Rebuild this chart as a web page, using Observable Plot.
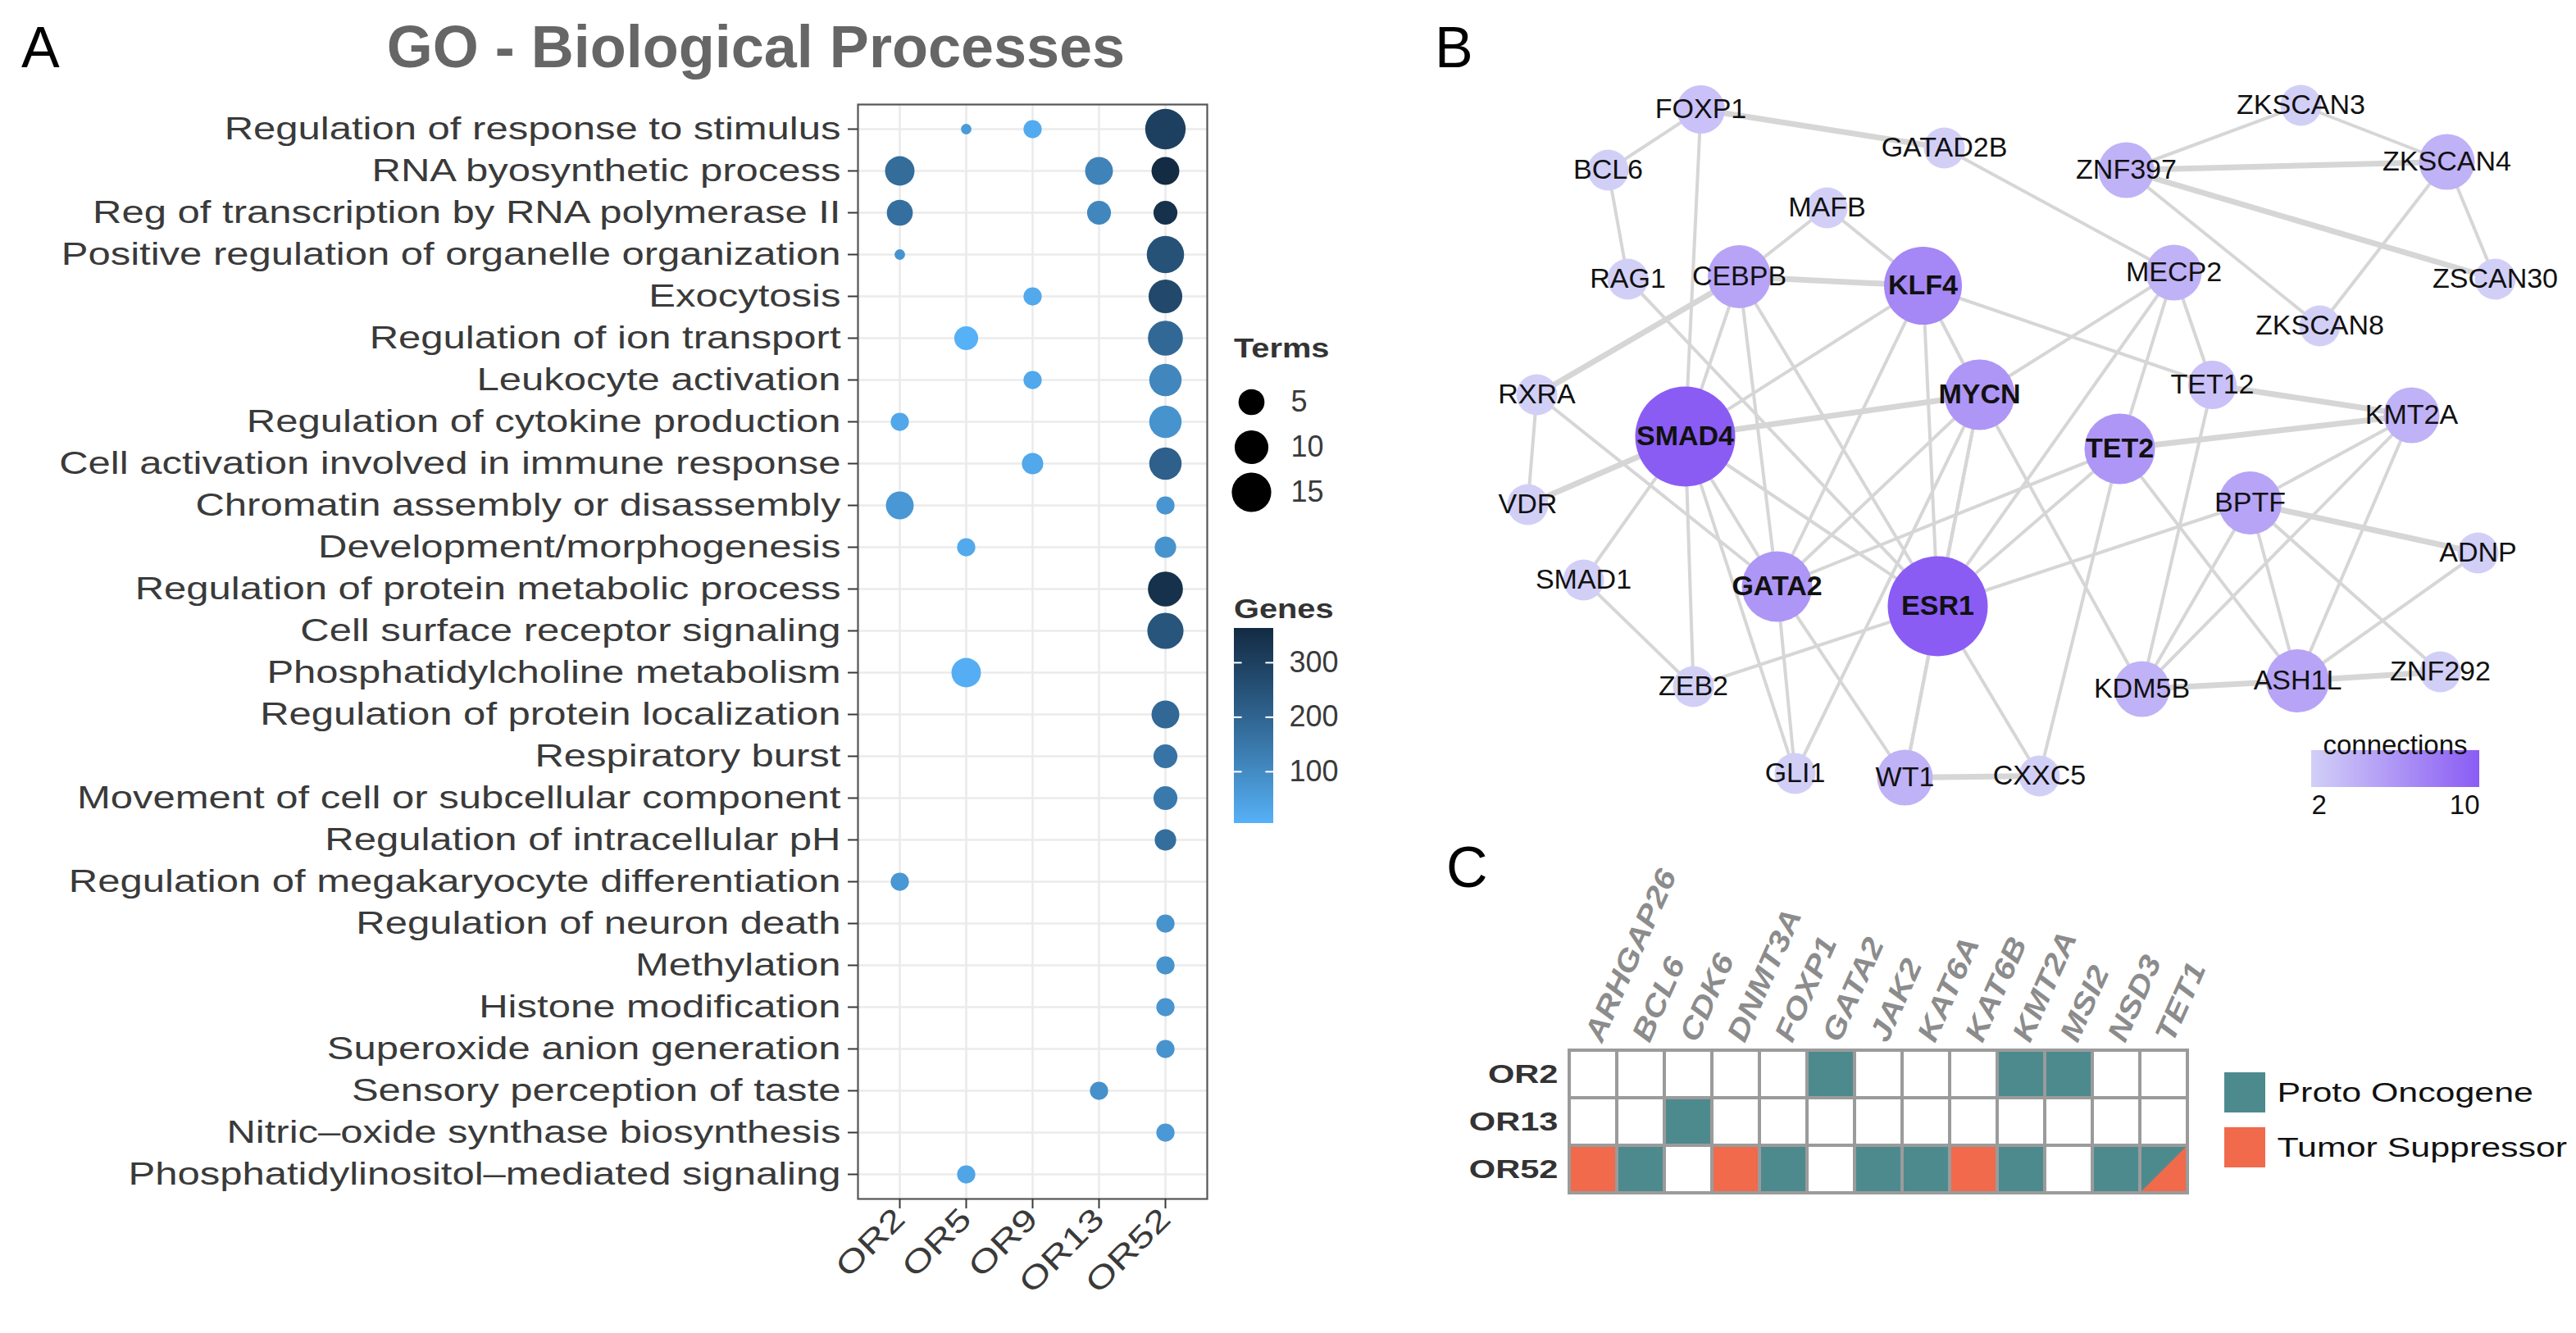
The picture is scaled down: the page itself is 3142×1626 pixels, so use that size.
<!DOCTYPE html>
<html><head><meta charset="utf-8">
<script src="https://cdn.jsdelivr.net/npm/d3@7"></script>
<script src="https://cdn.jsdelivr.net/npm/@observablehq/plot@0.6"></script>
<style>
html,body{margin:0;padding:0;background:#fff;}
#fig{position:relative;width:3142px;height:1626px;overflow:hidden;background:#fff;font-family:"Liberation Sans",Arial,Helvetica,sans-serif;}
</style></head><body>
<div id="fig"></div>
<script>
// ---------------- DATA ----------------
// Panel A: GO biological processes dot plot
const terms = [
"Regulation of response to stimulus",
"RNA byosynthetic process",
"Reg of transcription by RNA polymerase II",
"Positive regulation of organelle organization",
"Exocytosis",
"Regulation of ion transport",
"Leukocyte activation",
"Regulation of cytokine production",
"Cell activation involved in immune response",
"Chromatin assembly or disassembly",
"Development/morphogenesis",
"Regulation of protein metabolic process",
"Cell surface receptor signaling",
"Phosphatidylcholine metabolism",
"Regulation of protein localization",
"Respiratory burst",
"Movement of cell or subcellular component",
"Regulation of intracellular pH",
"Regulation of megakaryocyte differentiation",
"Regulation of neuron death",
"Methylation",
"Histone modification",
"Superoxide anion generation",
"Sensory perception of taste",
"Nitric\u2013oxide synthase biosynthesis",
"Phosphatidylinositol\u2013mediated signaling"
];
const groups = ["OR2","OR5","OR9","OR13","OR52"];
const dotTerm  = [0,0,0,1,1,1,2,2,2,3,3,4,4,5,5,6,6,7,7,8,8,9,9,10,10,11,12,13,14,15,16,17,18,19,20,21,22,23,24,25];
const dotGroup = ["OR5","OR9","OR52","OR2","OR13","OR52","OR2","OR13","OR52","OR2","OR52","OR9","OR52","OR5","OR52","OR9","OR52","OR2","OR52","OR9","OR52","OR2","OR52","OR5","OR52","OR52","OR52","OR5","OR52","OR52","OR52","OR52","OR2","OR52","OR52","OR52","OR52","OR13","OR52","OR5"];
const dotCount = [1,2,16,7,6,6,5,4,4,1,13,2,10,4,11,2,9,2,9,3,9,6,2,2,3,11,12,7,6,4,4,3,2,2,2,2,2,2,2,2];
const dotGenes = [60,20,300,180,120,362,170,110,345,80,250,25,275,5,190,28,110,30,80,28,210,70,75,25,80,345,240,12,190,160,145,175,70,80,80,75,80,85,65,35];
const termBreaks = [5,10,15];
const geneBreaks = [100,200,300];
const geneRange = [5,363];

// Panel B: network
const nodeNames = ["FOXP1","BCL6","GATAD2B","ZNF397","ZKSCAN3","ZKSCAN4","MAFB","RAG1","CEBPB","KLF4","MECP2","ZSCAN30","ZKSCAN8","TET12","MYCN","RXRA","KMT2A","SMAD4","TET2","VDR","BPTF","ADNP","SMAD1","GATA2","ESR1","ZEB2","KDM5B","ASH1L","ZNF292","GLI1","WT1","CXXC5"];
const nodeX = [31.4,20.1,61.1,83.3,104.6,122.4,46.8,22.5,36.1,58.5,89.1,128.3,106.9,93.8,65.4,11.4,118.1,29.5,82.5,10.3,98.4,126.2,17.1,40.7,60.3,30.5,85.2,104.2,121.6,42.9,56.3,72.7];
const nodeY = [13.3,20.7,18.0,20.7,12.8,19.7,25.3,34.0,33.7,34.8,33.2,34.0,39.7,46.9,48.1,48.1,50.6,53.2,54.7,61.5,61.3,67.4,70.7,71.5,73.9,83.7,84.0,83.0,81.9,94.3,94.8,94.6];
const nodeConn = [3,2,2,4,2,4,2,2,5,7,4,2,2,3,6,2,4,10,6,2,5,2,2,6,10,2,4,5,2,2,4,2];
const edgeFrom = ["FOXP1","FOXP1","FOXP1","BCL6","GATAD2B","ZNF397","ZNF397","ZNF397","ZNF397","ZKSCAN3","ZKSCAN4","ZKSCAN4","MAFB","MAFB","CEBPB","RAG1","RXRA","RXRA","RXRA","VDR","SMAD1","SMAD1","SMAD4","SMAD4","SMAD4","SMAD4","SMAD4","SMAD4","SMAD4","CEBPB","CEBPB","KLF4","KLF4","KLF4","KLF4","MECP2","MECP2","MECP2","MECP2","MYCN","MYCN","MYCN","MYCN","TET2","TET2","TET2","TET2","TET2","TET12","TET12","KMT2A","KMT2A","KMT2A","BPTF","BPTF","BPTF","BPTF","BPTF","ADNP","KDM5B","ASH1L","WT1","ESR1","ESR1","ESR1","GATA2","GATA2","MYCN"];
const edgeTo   = ["BCL6","GATAD2B","SMAD4","RAG1","MECP2","ZKSCAN3","ZKSCAN4","ZKSCAN8","ZSCAN30","ZKSCAN4","ZKSCAN8","ZSCAN30","CEBPB","KLF4","KLF4","ESR1","CEBPB","VDR","GATA2","SMAD4","SMAD4","ZEB2","CEBPB","KLF4","MYCN","GATA2","ESR1","ZEB2","GLI1","GATA2","ESR1","ESR1","MYCN","GATA2","TET12","TET12","TET2","MYCN","ESR1","ESR1","KDM5B","GATA2","WT1","KMT2A","GATA2","CXXC5","ESR1","ASH1L","KMT2A","KDM5B","BPTF","KDM5B","ASH1L","ADNP","ESR1","KDM5B","ASH1L","ZNF292","ASH1L","ASH1L","ZNF292","CXXC5","WT1","ZEB2","CXXC5","GLI1","WT1","GLI1"];
const edgeWeight = [1,2,1,1,1,1,2,1,2,1,1,1,1,1,2,1,2,1,1,2,1,1,1,1,2,1,1,1,1,1,1,1,1,1,1,1,1,1,1,1,1,1,1,2,1,1,1,1,2,1,1,1,1,2,1,1,1,1,1,2,2,2,1,1,1,1,1,1];
const connBreaks = [2,10];

// Panel C: oncogene / tumour suppressor matrix
const genesC = ["ARHGAP26","BCL6","CDK6","DNMT3A","FOXP1","GATA2","JAK2","KAT6A","KAT6B","KMT2A","MSI2","NSD3","TET1"];
const samplesC = ["OR2","OR13","OR52"];
const statusOR2  = ["","","","","","P","","","","P","P","",""];
const statusOR13 = ["","","P","","","","","","","","","",""];
const statusOR52 = ["T","P","","T","P","","P","P","T","P","","P","PT"];
const typeNames = ["Proto Oncogene","Tumor Suppressor"];

// ---------------- HELPERS ----------------
const FONT = "'Liberation Sans', Arial, Helvetica, sans-serif";
const fig = document.getElementById("fig");
function place(el, left, top){ el.style.position="absolute"; el.style.left=left+"px"; el.style.top=top+"px"; el.style.overflow="visible"; fig.appendChild(el); return el; }
function stretchText(root, selector, s){
  root.querySelectorAll(selector).forEach(el=>{
    const x = parseFloat(el.getAttribute("x")) || 0;
    const t = el.getAttribute("transform") || "";
    el.setAttribute("transform", `${t} translate(${x},0) scale(${s},1) translate(${-x},0)`);
  });
}
const baseStyle = {fontFamily: FONT, background:"transparent", overflow:"visible", color:"#3a3a3a"};

// ---------------- PANEL A ----------------
const dots = dotTerm.map((t,i)=>({term:terms[t], group:dotGroup[i], count:dotCount[i], genes:dotGenes[i]}));
const rA = {type:"linear", domain:[1,5], range:[6.4,25.3]};
const sizeOf = c => 1 + Math.sqrt(c - 1);
const colorA = {type:"linear", domain:geneRange, range:["#56B1F7","#132B43"], interpolate:"lab"};

const plotA = Plot.plot({
  width:1500, height:1626, marginLeft:1046, marginRight:28, marginTop:127, marginBottom:164,
  style: baseStyle,
  x:{type:"point", domain:groups, padding:0.6},
  y:{type:"point", domain:terms, padding:0.58},
  r: rA, color: colorA,
  marks:[
    Plot.ruleY(terms, {y:d=>d, stroke:"#ebebeb", strokeWidth:2.6}),
    Plot.ruleX(groups, {x:d=>d, stroke:"#ebebeb", strokeWidth:2.6}),
    Plot.dot(dots, {x:"group", y:"term", r:d=>sizeOf(d.count), fill:"genes"}),
    Plot.frame({stroke:"#555", strokeWidth:2.2}),
    Plot.axisY({tickSize:12, tickPadding:9, fontSize:38, label:null, strokeWidth:2}),
    Plot.axisX({tickSize:12, tickPadding:6, tickRotate:-45, fontSize:38, label:null, strokeWidth:2})
  ]
});
stretchText(plotA, 'g[aria-label="y-axis tick label"] text', 1.29);
stretchText(plotA, 'g[aria-label="x-axis tick label"] text', 1.29);
place(plotA, 0, 0);

// Terms (size) legend
const legTerms = Plot.plot({
  width:240, height:260, margin:0, style: baseStyle,
  y:{type:"point", domain:termBreaks, range:[90,200], padding:0, axis:null},
  r: rA,
  marks:[
    Plot.dot(termBreaks, {y:d=>d, r:d=>sizeOf(d), fill:"#000", frameAnchor:"left", dx:36}),
    Plot.text(termBreaks, {y:d=>d, text:d=>String(d), frameAnchor:"left", dx:84, textAnchor:"start", fontSize:36, fill:"#3a3a3a"})
  ]
});
place(legTerms, 1490, 400);

// Genes (colour) legend
const gbins = d3.range(geneRange[0], geneRange[1], 1);
const legGenes = Plot.plot({
  width:200, height:300, margin:0, style: baseStyle,
  x:{domain:[0,1], range:[15,63], axis:null},
  y:{domain:geneRange, range:[254,16], axis:null},
  color: colorA,
  marks:[
    Plot.rect(gbins, {x1:0, x2:1, y1:d=>d, y2:d=>Math.min(d+1.3, geneRange[1]), fill:d=>d+0.5, shapeRendering:"crispEdges"}),
    Plot.ruleY(geneBreaks, {y:d=>d, x1:0, x2:0.2, stroke:"#fff", strokeWidth:2}),
    Plot.ruleY(geneBreaks, {y:d=>d, x1:0.8, x2:1, stroke:"#fff", strokeWidth:2}),
    Plot.text(geneBreaks, {y:d=>d, text:d=>String(d), frameAnchor:"left", dx:82, textAnchor:"start", fontSize:36, fill:"#3a3a3a"})
  ]
});
place(legGenes, 1490, 750);

// ---------------- PANEL B ----------------
const nodes = nodeNames.map((n,i)=>({name:n, x:nodeX[i], y:nodeY[i], conn:nodeConn[i]}));
const byName = new Map(nodes.map(d=>[d.name,d]));
const edges = edgeFrom.map((f,i)=>({a:byName.get(f), b:byName.get(edgeTo[i]), w:edgeWeight[i]}));
const colorB = {type:"linear", domain:[2,10], range:["#d2cff7","#8a5cf4"]};
const plotB = Plot.plot({
  width:1382, height:1010, margin:0, style: baseStyle,
  x:{domain:[0,138.2], range:[0,1382], axis:null},
  y:{domain:[0,101], range:[0,1010], axis:null},
  r:{type:"linear", domain:[2,10], range:[25,61]},
  color: colorB,
  marks:[
    Plot.link(edges, {x1:d=>d.a.x, y1:d=>d.a.y, x2:d=>d.b.x, y2:d=>d.b.y, stroke:"#d6d6d6", strokeWidth:d=>d.w*3+1, strokeLinecap:"round"}),
    Plot.dot(nodes, {x:"x", y:"y", r:"conn", fill:"conn"}),
    Plot.text(nodes.filter(d=>d.conn<6), {x:"x", y:"y", text:"name", fontSize:34, fill:"#111"}),
    Plot.text(nodes.filter(d=>d.conn>=6), {x:"x", y:"y", text:"name", fontSize:34, fontWeight:"bold", fill:"#111"})
  ]
});
place(plotB, 1760, 0);

const cbins = d3.range(2, 10, 0.04);
const legConn = Plot.plot({
  width:300, height:160, margin:0, style: baseStyle,
  x:{domain:[2,10], range:[19,224], axis:null},
  y:{domain:[0,1], range:[55,100], axis:null},
  color: colorB,
  marks:[
    Plot.rect(cbins, {x1:d=>d, x2:d=>Math.min(d+0.06,10), y1:0, y2:1, fill:d=>d+0.02, shapeRendering:"crispEdges"}),
    Plot.text(["connections"], {frameAnchor:"top-left", dx:121, dy:36, textAnchor:"middle", fontSize:33, fill:"#111"}),
    Plot.text([connBreaks[0]], {x:d=>d, y:1, dy:22, text:d=>String(d), textAnchor:"start", fontSize:33, fill:"#111"}),
    Plot.text([connBreaks[1]], {x:d=>d, y:1, dy:22, text:d=>String(d), textAnchor:"end", fontSize:33, fill:"#111"})
  ]
});
place(legConn, 2800, 860);

// ---------------- PANEL C ----------------
const statusC = [statusOR2, statusOR13, statusOR52];
const cells = [];
samplesC.forEach((s,j)=>statusC[j].forEach((code,i)=>cells.push({sample:s, gene:genesC[i], code})));
const codeName = c => c==="T" ? typeNames[1] : c ? typeNames[0] : "empty";
const paletteC = ["#4d8a8e","#f06a4b","#ffffff"];
const colorC = {type:"ordinal", domain:[typeNames[0], typeNames[1], "empty"], range:paletteC};
const plotC = Plot.plot({
  width:1392, height:626, marginLeft:162, marginTop:280, marginRight:472, marginBottom:171,
  style: Object.assign({}, baseStyle, {color:"#333"}),
  x:{type:"band", domain:genesC, padding:0},
  y:{type:"band", domain:samplesC, padding:0},
  color: colorC,
  marks:[
    Plot.cell(cells, {x:"gene", y:"sample", fill:d=>codeName(d.code), stroke:"#9b9b9b", strokeWidth:4}),
    Plot.axisX({anchor:"top", tickSize:0, tickPadding:12, tickRotate:-66, fontSize:36, label:null}),
    Plot.axisY({anchor:"left", tickSize:0, tickPadding:12, fontSize:32, label:null})
  ]
});
// split cell (both proto-oncogene and tumour suppressor): lower-right triangle in the suppressor colour
{
  const xs = plotC.scale("x"), ys = plotC.scale("y");
  const ns = "http://www.w3.org/2000/svg";
  const cellsG = plotC.querySelector('g[aria-label="cell"]');
  cells.filter(d=>d.code==="PT").forEach(d=>{
    const x0 = xs.apply(d.gene), y0 = ys.apply(d.sample), bw = xs.bandwidth, bh = ys.bandwidth;
    const p = document.createElementNS(ns, "polygon");
    const i = 2;
    p.setAttribute("points", `${x0+bw-i},${y0+i} ${x0+bw-i},${y0+bh-i} ${x0+i},${y0+bh-i}`);
    p.setAttribute("fill", paletteC[1]);
    if (cellsG && cellsG.parentNode) cellsG.parentNode.insertBefore(p, cellsG.nextSibling); else plotC.appendChild(p);
  });
}
plotC.querySelectorAll('g[aria-label="x-axis tick label"]').forEach(g=>{g.setAttribute("font-style","italic");g.setAttribute("font-weight","bold");g.setAttribute("fill","#8c8c8c");});
plotC.querySelectorAll('g[aria-label="y-axis tick label"]').forEach(g=>{g.setAttribute("font-weight","bold");g.setAttribute("fill","#333");});
stretchText(plotC, 'g[aria-label="x-axis tick label"] text', 1.15);
stretchText(plotC, 'g[aria-label="y-axis tick label"] text', 1.3);
place(plotC, 1750, 1000);

const legC = Plot.plot({
  width:442, height:150, margin:0, style: baseStyle,
  x:{type:"band", domain:["k"], range:[13,63], padding:0, axis:null},
  y:{type:"band", domain:typeNames, range:[17,135], paddingInner:0.2647, paddingOuter:0, axis:null},
  color: colorC,
  marks:[
    Plot.cell(typeNames, {x:()=>"k", y:d=>d, fill:d=>d}),
    Plot.text(typeNames, {y:d=>d, text:d=>d, frameAnchor:"left", dx:77, textAnchor:"start", fontSize:33, fill:"#111"})
  ]
});
stretchText(legC, 'text', 1.3);
place(legC, 2700, 1290);

// ---------------- FREE TEXT (panel letters, titles) ----------------
const ov = d3.select(fig).append("svg").attr("width",3142).attr("height",1626)
  .style("position","absolute").style("left","0px").style("top","0px").style("pointer-events","none")
  .style("font-family", FONT).style("overflow","visible");
ov.append("text").attr("x",26).attr("y",82).attr("font-size",70).attr("fill","#000").text("A");
ov.append("text").attr("x",1750).attr("y",82).attr("font-size",70).attr("fill","#000").text("B");
ov.append("text").attr("x",1764).attr("y",1082).attr("font-size",70).attr("fill","#000").text("C");
ov.append("text").attr("x",922).attr("y",82).attr("font-size",72).attr("font-weight","bold").attr("text-anchor","middle").attr("fill","#666").text("GO - Biological Processes");
const tT = ov.append("text").attr("x",1505).attr("y",436).attr("font-size",34).attr("font-weight","bold").attr("fill","#333").text("Terms");
const tG = ov.append("text").attr("x",1505).attr("y",754).attr("font-size",34).attr("font-weight","bold").attr("fill","#333").text("Genes");
[tT,tG].forEach(t=>t.attr("transform","translate(1505,0) scale(1.17,1) translate(-1505,0)"));
</script>
</body></html>
